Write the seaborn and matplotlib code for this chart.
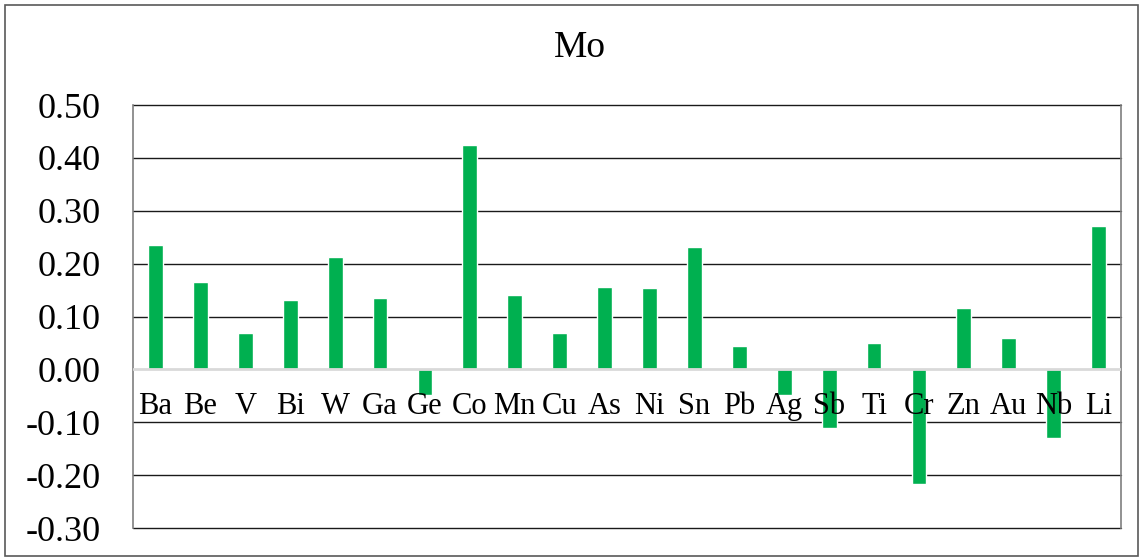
import matplotlib
matplotlib.use("Agg")
import matplotlib.pyplot as plt
import seaborn as sns
import pandas as pd
from matplotlib.patches import Rectangle

# Correlation of Mo with other elements
elements = ["Ba", "Be", "V", "Bi", "W", "Ga", "Ge", "Co", "Mn", "Cu", "As",
            "Ni", "Sn", "Pb", "Ag", "Sb", "Ti", "Cr", "Zn", "Au", "Nb", "Li"]
values = [0.236, 0.166, 0.068, 0.132, 0.213, 0.135, -0.048, 0.425, 0.140, 0.069, 0.156,
          0.154, 0.232, 0.044, -0.048, -0.111, 0.050, -0.216, 0.117, 0.060, -0.129, 0.272]
yticks = [0.5, 0.4, 0.3, 0.2, 0.1, 0.0, -0.1, -0.2, -0.3]

df = pd.DataFrame({"element": elements, "r": values})

sns.set_style("white")
plt.rcParams["font.family"] = ["Liberation Serif", "DejaVu Serif"]
plt.rcParams["text.color"] = "black"
plt.rcParams["ytick.color"] = "black"

fig = plt.figure(figsize=(11.43, 5.6), dpi=100)
ax = fig.add_axes([0.1164, 0.0571, 0.8644, 0.7554])

sns.barplot(data=df, x="element", y="r", color="#00b050", width=0.33,
            saturation=1, ax=ax, zorder=3)

ax.set_ylim(-0.3, 0.5)
ax.set_xlim(-0.5, len(elements) - 0.5)
ax.set_yticks(yticks)
ax.set_yticklabels([f"{t:.2f}" for t in yticks], fontsize=26, color="black")
ax.tick_params(axis="y", length=0, pad=23)
ax.set_xticks([])
ax.set_xlabel("")
ax.set_ylabel("")

# gridlines
for t in yticks:
    if t == 0:
        ax.axhline(t, color="#d9d9d9", lw=2, zorder=4)
    else:
        ax.axhline(t, color="#1a1a1a", lw=1, zorder=1, clip_on=False)

for side in ["top", "bottom"]:
    ax.spines[side].set_visible(False)
for side in ["left", "right"]:
    ax.spines[side].set_color("#7f7f7f")
    ax.spines[side].set_linewidth(1.2)

# category labels inside the plot, just below zero line
for i, name in enumerate(elements):
    ax.text(i, -0.07, name, ha="center", va="center", fontsize=22,
            color="black", zorder=5)

fig.text(0.5075, 0.914, "Mo", ha="center", va="center", fontsize=27, color="black")

# outer chart border
fig.patches.append(Rectangle((5 / 1143, 4 / 560), 1133 / 1143, 551 / 560,
                             transform=fig.transFigure, fill=False,
                             edgecolor="#595959", lw=1.2))

fig.savefig("out.png", dpi=100)
